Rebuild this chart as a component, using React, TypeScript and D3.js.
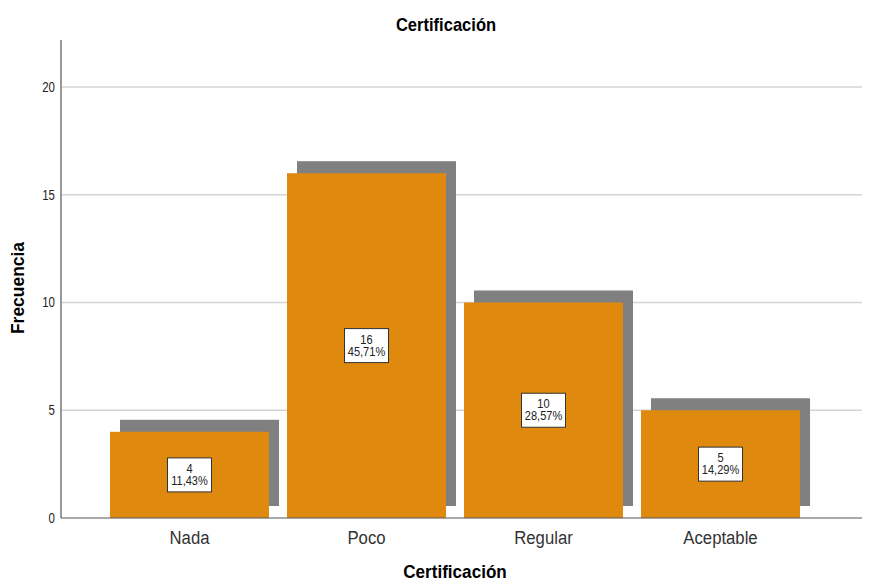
import React from "react";
import * as d3 from "d3";

const categories = ["Nada", "Poco", "Regular", "Aceptable"];
const counts = [4, 16, 10, 5];
const percents = ["11,43%", "45,71%", "28,57%", "14,29%"];
const yTicks = [0, 5, 10, 15, 20];

const W = 875;
const H = 583;
const FONT = "'Liberation Sans', Arial, sans-serif";

function CText(props: {
  x: number;
  y: number;
  sx?: number;
  size: number;
  anchor?: string;
  bold?: boolean;
  fill?: string;
  rotate?: number;
  children: React.ReactNode;
}) {
  const { x, y, sx = 1, size, anchor = "middle", bold, fill = "#222", rotate = 0, children } = props;
  return (
    <text
      transform={`translate(${x},${y}) rotate(${rotate}) scale(${sx},1)`}
      textAnchor={anchor}
      fontFamily={FONT}
      fontSize={size}
      fontWeight={bold ? "bold" : "normal"}
      fill={fill}
    >
      {children}
    </text>
  );
}

export default function App() {
  const y = d3.scaleLinear().domain([0, 22.18]).range([518, 40]);
  const x = d3
    .scaleBand<string>()
    .domain(categories)
    .range([101, 809])
    .paddingInner(0.1017)
    .paddingOuter(0.0508);
  const left = 61;
  const right = 862;
  const shX = 10;
  const shY = 12;

  return (
    <svg width={W} height={H} style={{ position: "absolute", left: 0, top: 0, background: "#fff" }}>
      <CText x={446} y={31} size={18} sx={0.92} bold fill="#000">
        Certificación
      </CText>
      {yTicks.filter((t) => t > 0).map((t) => (
        <line key={t} x1={left} x2={right} y1={y(t)} y2={y(t)} stroke="#d4d4d4" strokeWidth={1.5} />
      ))}
      {categories.map((c, i) => (
        <rect
          key={"s" + c}
          x={(x(c) as number) + shX}
          y={y(counts[i]) - shY}
          width={x.bandwidth()}
          height={y(0) - y(counts[i])}
          fill="#808080"
        />
      ))}
      {categories.map((c, i) => (
        <rect
          key={"b" + c}
          x={x(c) as number}
          y={y(counts[i])}
          width={x.bandwidth()}
          height={y(0) - y(counts[i])}
          fill="#DF8A0F"
        />
      ))}
      <line x1={left} x2={left} y1={40} y2={518} stroke="#999" strokeWidth={2} />
      <line x1={left} x2={right} y1={518} y2={518} stroke="#555" strokeWidth={1} />
      {yTicks.map((t) => (
        <CText key={"t" + t} x={left - 6} y={y(t) + 5} size={14} sx={0.82} anchor="end">
          {t}
        </CText>
      ))}
      {categories.map((c, i) => {
        const cx = (x(c) as number) + x.bandwidth() / 2;
        const cy = y(counts[i] / 2);
        const bw = 44;
        const bh = 34;
        return (
          <g key={"l" + c}>
            <rect x={cx - bw / 2} y={cy - bh / 2} width={bw} height={bh} fill="#fff" stroke="#333" strokeWidth={1} />
            <CText x={cx} y={cy - 2} size={12} sx={0.92}>
              {counts[i]}
            </CText>
            <CText x={cx} y={cy + 10} size={12} sx={0.92}>
              {percents[i]}
            </CText>
          </g>
        );
      })}
      {categories.map((c) => (
        <CText key={"c" + c} x={(x(c) as number) + x.bandwidth() / 2} y={544} size={19} sx={0.88} fill="#333">
          {c}
        </CText>
      ))}
      <CText x={455} y={578} size={18} sx={0.95} bold fill="#000">
        Certificación
      </CText>
      <CText x={24} y={288} size={18} sx={0.97} bold fill="#000" rotate={-90}>
        Frecuencia
      </CText>
    </svg>
  );
}
